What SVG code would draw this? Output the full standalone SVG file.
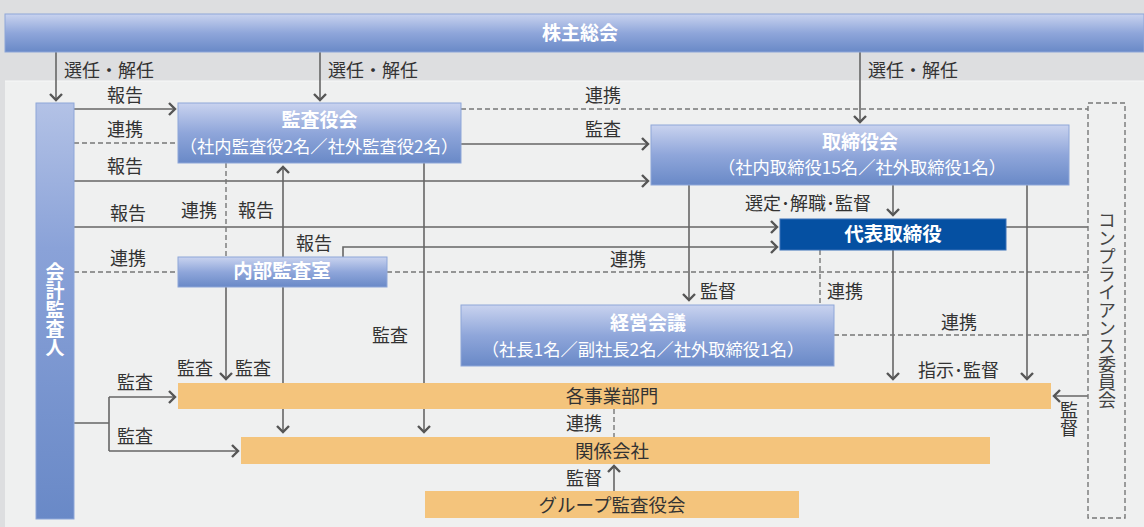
<svg xmlns="http://www.w3.org/2000/svg" width="1144" height="527" viewBox="0 0 1144 527">
<style>
.lbl{font-family:"Noto Sans CJK JP","Noto Sans",sans-serif;font-size:18px;fill:#333}
.ttl{font-family:"Noto Sans CJK JP","Noto Sans",sans-serif;font-weight:bold;font-size:19px;fill:#fff;text-anchor:middle}
.sub{font-family:"Noto Sans CJK JP","Noto Sans",sans-serif;font-size:17.3px;fill:#fff;text-anchor:middle}
.bar{font-family:"Noto Sans CJK JP","Noto Sans",sans-serif;font-size:18.5px;fill:#333;text-anchor:middle}
.ln{stroke:#666;stroke-width:1.6;fill:none}
.dash{stroke:#777;stroke-width:1.4;stroke-dasharray:5 3;fill:none}
.box{fill:url(#bg);stroke:#8ea6d8;stroke-width:1}
.org{fill:#f4c47c}
</style>
<defs>
<linearGradient id="bg" x1="0" y1="0" x2="0" y2="1">
<stop offset="0" stop-color="#c9d3ef"/>
<stop offset="0.5" stop-color="#8fa6da"/>
<stop offset="1" stop-color="#6989c7"/>
</linearGradient>
<linearGradient id="bgv" x1="0" y1="0" x2="0" y2="1">
<stop offset="0" stop-color="#b3c2e6"/>
<stop offset="0.35" stop-color="#8aa2d8"/>
<stop offset="1" stop-color="#6989c7"/>
</linearGradient>
<marker id="ah" markerUnits="userSpaceOnUse" markerWidth="14" markerHeight="14" refX="7" refY="7" orient="auto">
<path d="M1,1 L7,7 L1,13" fill="none" stroke="#555" stroke-width="2.4"/>
</marker>
</defs>
<rect x="0" y="0" width="1144" height="527" fill="#dddee0"/>
<rect x="5" y="81" width="1139" height="446" fill="#eff0f0"/>
<rect x="5" y="80.5" width="1139" height="1" fill="#f8f8f8"/>

<g id="connectors">
<line class="ln" x1="56" y1="52" x2="56" y2="100" marker-end="url(#ah)"/>
<line class="ln" x1="320" y1="52" x2="320" y2="100" marker-end="url(#ah)"/>
<line class="ln" x1="860" y1="52" x2="860" y2="122" marker-end="url(#ah)"/>
<line class="ln" x1="74" y1="109" x2="175" y2="109" marker-end="url(#ah)"/>
<line class="dash" x1="74" y1="143" x2="178" y2="143"/>
<line class="ln" x1="74" y1="181" x2="648" y2="181" marker-end="url(#ah)"/>
<line class="ln" x1="74" y1="227" x2="777" y2="227" marker-end="url(#ah)"/>
<line class="dash" x1="74" y1="272" x2="178" y2="272"/>
<line class="dash" x1="387" y1="272" x2="1088" y2="272"/>
<line class="ln" x1="461" y1="144" x2="648" y2="144" marker-end="url(#ah)"/>
<line class="dash" x1="461" y1="109" x2="1088" y2="109"/>
<line class="dash" x1="226" y1="163" x2="226" y2="257"/>
<line class="ln" x1="283" y1="257" x2="283" y2="167" marker-end="url(#ah)"/>
<line class="ln" x1="226" y1="287" x2="226" y2="379" marker-end="url(#ah)"/>
<line class="ln" x1="283" y1="287" x2="283" y2="432" marker-end="url(#ah)"/>
<line class="ln" x1="424" y1="163" x2="424" y2="432" marker-end="url(#ah)"/>
<polyline class="ln" points="343,257 343,247 777,247" marker-end="url(#ah)"/>
<line class="ln" x1="689" y1="185" x2="689" y2="300" marker-end="url(#ah)"/>
<line class="ln" x1="893" y1="185" x2="893" y2="215" marker-end="url(#ah)"/>
<line class="ln" x1="893" y1="250" x2="893" y2="379" marker-end="url(#ah)"/>
<line class="ln" x1="1027" y1="185" x2="1027" y2="379" marker-end="url(#ah)"/>
<line class="dash" x1="820" y1="250" x2="820" y2="305"/>
<line class="ln" x1="1006" y1="227" x2="1088" y2="227"/>
<line class="dash" x1="834" y1="335" x2="1088" y2="335"/>
<line class="ln" x1="1088" y1="396" x2="1054" y2="396" marker-end="url(#ah)"/>
<path class="ln" d="M74,423 H109 M109,397 V451"/>
<line class="ln" x1="109" y1="397" x2="175" y2="397" marker-end="url(#ah)"/>
<line class="ln" x1="109" y1="451" x2="238" y2="451" marker-end="url(#ah)"/>
<line class="dash" x1="614" y1="409" x2="614" y2="437"/>
<line class="ln" x1="614" y1="491" x2="614" y2="466" marker-end="url(#ah)"/>
</g>

<g id="labels">
<text class="lbl" x="64" y="77">選任・解任</text>
<text class="lbl" x="328" y="77">選任・解任</text>
<text class="lbl" x="868" y="77">選任・解任</text>
<text class="lbl" x="107" y="102">報告</text>
<text class="lbl" x="107" y="136">連携</text>
<text class="lbl" x="107" y="173">報告</text>
<text class="lbl" x="110" y="220">報告</text>
<text class="lbl" x="110" y="265">連携</text>
<text class="lbl" x="181" y="217">連携</text>
<text class="lbl" x="238" y="217">報告</text>
<text class="lbl" x="296" y="250">報告</text>
<text class="lbl" x="585" y="102">連携</text>
<text class="lbl" x="585" y="136">監査</text>
<text class="lbl" x="610" y="266">連携</text>
<text class="lbl" x="745" y="210">選定･解職･監督</text>
<text class="lbl" x="700" y="298">監督</text>
<text class="lbl" x="827" y="298">連携</text>
<text class="lbl" x="941" y="329">連携</text>
<text class="lbl" x="918" y="377">指示･監督</text>
<text class="lbl" x="372" y="342">監査</text>
<text class="lbl" x="177" y="375">監査</text>
<text class="lbl" x="235" y="375">監査</text>
<text class="lbl" x="117" y="389">監査</text>
<text class="lbl" x="117" y="443">監査</text>
<text class="lbl" x="566" y="430">連携</text>
<text class="lbl" x="566" y="485">監督</text>
<text class="lbl" x="1069" y="401" style="writing-mode:vertical-rl">監督</text>
</g>

<g id="shareholders">
<rect class="box" x="5" y="14" width="1139" height="38"/>
<text class="ttl" x="580" y="40">株主総会</text>
</g>
<g id="auditor">
<rect x="36" y="103" width="38" height="416" fill="url(#bgv)" stroke="#8ea6d8" stroke-width="1"/>
<text class="ttl" x="55" y="262" style="writing-mode:vertical-rl;text-anchor:start">会計監査人</text>
</g>
<g id="kansayakukai">
<rect class="box" x="178" y="103" width="283" height="60"/>
<text class="ttl" x="319.5" y="127">監査役会</text>
<text class="sub" x="319" y="153">（社内監査役2名／社外監査役2名）</text>
</g>
<g id="torishimariyakukai">
<rect class="box" x="651" y="125" width="418" height="60"/>
<text class="ttl" x="860" y="149">取締役会</text>
<text class="sub" x="862" y="174">（社内取締役15名／社外取締役1名）</text>
</g>
<g id="daihyo">
<rect x="780" y="219" width="226" height="31" fill="#0550a2" stroke="#3b70b8" stroke-width="1"/>
<text class="ttl" x="893" y="241" style="font-size:19.5px">代表取締役</text>
</g>
<g id="naibu">
<rect class="box" x="178" y="257" width="209" height="30"/>
<text class="ttl" x="282" y="278" style="font-size:19.5px">内部監査室</text>
</g>
<g id="keiei">
<rect class="box" x="461" y="305" width="373" height="61"/>
<text class="ttl" x="648" y="330">経営会議</text>
<text class="sub" x="643" y="356">（社長1名／副社長2名／社外取締役1名）</text>
</g>
<g id="jigyobumon">
<rect class="org" x="178" y="383" width="873" height="26"/>
<text class="bar" x="612" y="403">各事業部門</text>
</g>
<g id="kankeigaisha">
<rect class="org" x="241" y="437" width="749" height="27"/>
<text class="bar" x="612" y="458">関係会社</text>
</g>
<g id="group">
<rect class="org" x="425" y="491" width="374" height="27"/>
<text class="bar" x="612" y="512">グループ監査役会</text>
</g>
<g id="compliance">
<rect x="1088" y="103" width="37" height="415" fill="none" stroke="#777" stroke-width="1.4" stroke-dasharray="5 3"/>
<text class="lbl" x="1107" y="211" style="writing-mode:vertical-rl;fill:#444">コンプライアンス委員会</text>
</g>
</svg>
